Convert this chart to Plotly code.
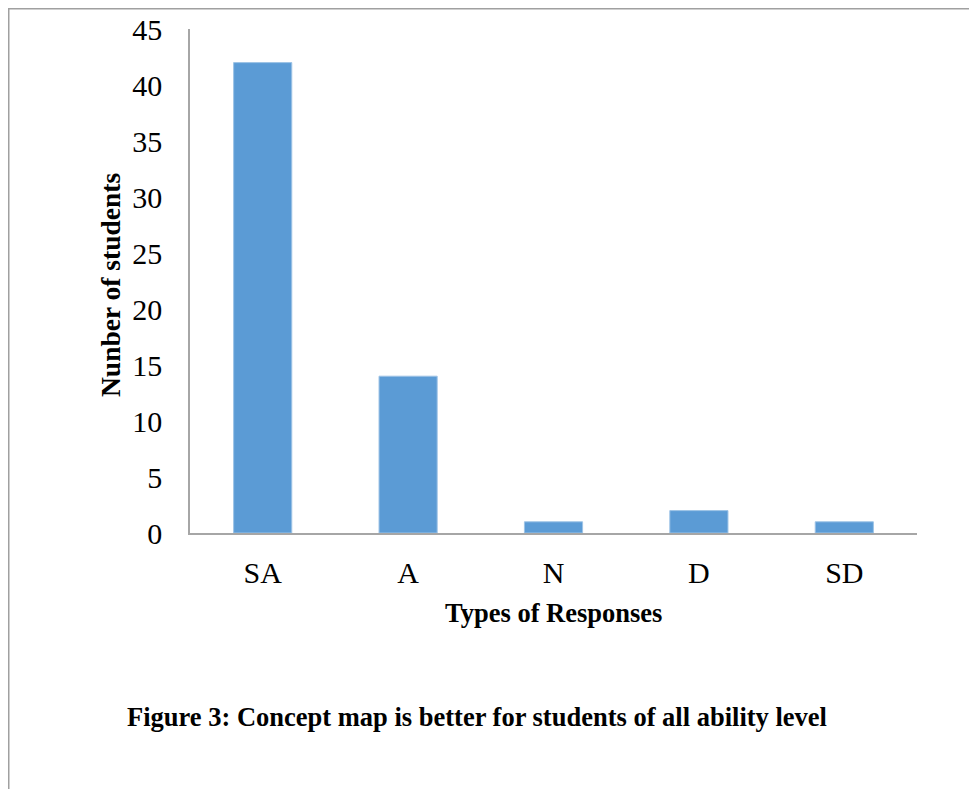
import plotly.graph_objects as go

categories = ["SA", "A", "N", "D", "SD"]
values = [42, 14, 1, 2, 1]
y_ticks = [0, 5, 10, 15, 20, 25, 30, 35, 40, 45]

x_title = "Types of Responses"
y_title = "Nunber of students"
caption = "Figure 3: Concept map is better for students of all ability level"

serif = "Liberation Serif, Times New Roman, serif"

W, H = 969, 781
L, T, PW, PH = 182, 21, 727, 504
B = H - T - PH
R = W - L - PW


def px(x):
    return (x - L) / PW


def py(y):
    return (H - y - B) / PH


fig = go.Figure(go.Bar(
    x=categories, y=values,
    marker=dict(color="#5B9BD5", line=dict(color="#9DC3E6", width=1)),
))

fig.update_layout(
    template="none",
    width=W, height=H,
    margin=dict(l=L, r=R, t=T, b=B, autoexpand=False),
    paper_bgcolor="white", plot_bgcolor="white",
    bargap=0.6,
    showlegend=False,
    font=dict(family=serif, color="black"),
    xaxis=dict(
        automargin=False,
        showline=True, linecolor="#A6A6A6", linewidth=1.5,
        showgrid=False, ticks="", tickfont=dict(size=30),
        ticklabelstandoff=12,
    ),
    yaxis=dict(
        automargin=False,
        range=[0, 45], tickvals=y_ticks,
        showline=True, linecolor="#A6A6A6", linewidth=1.5,
        showgrid=False, ticks="", tickfont=dict(size=30),
        ticklabelstandoff=20, zeroline=False,
    ),
    annotations=[
        dict(text=f"<b>{x_title}</b>", xref="paper", yref="paper",
             x=0.5, y=py(605), xanchor="center", yanchor="middle",
             showarrow=False, font=dict(size=26.5, family=serif)),
        dict(text=f"<b>{y_title}</b>", xref="paper", yref="paper",
             x=px(102), y=py(277), textangle=-90,
             xanchor="center", yanchor="middle",
             showarrow=False, font=dict(size=27.5, family=serif)),
        dict(text=f"<b>{caption}</b>", xref="paper", yref="paper",
             x=px(469), y=py(709),
             xanchor="center", yanchor="middle",
             showarrow=False, font=dict(size=26.5, family=serif)),
    ],
    shapes=[
        dict(type="line", xref="paper", yref="paper",
             x0=px(0), x1=px(W), y0=py(0.75), y1=py(0.75),
             line=dict(color="#A0A0A0", width=1.5)),
        dict(type="line", xref="paper", yref="paper",
             x0=px(0.75), x1=px(0.75), y0=py(0), y1=py(H),
             line=dict(color="#A0A0A0", width=1.5)),
    ],
)

fig.write_html("out.html")
